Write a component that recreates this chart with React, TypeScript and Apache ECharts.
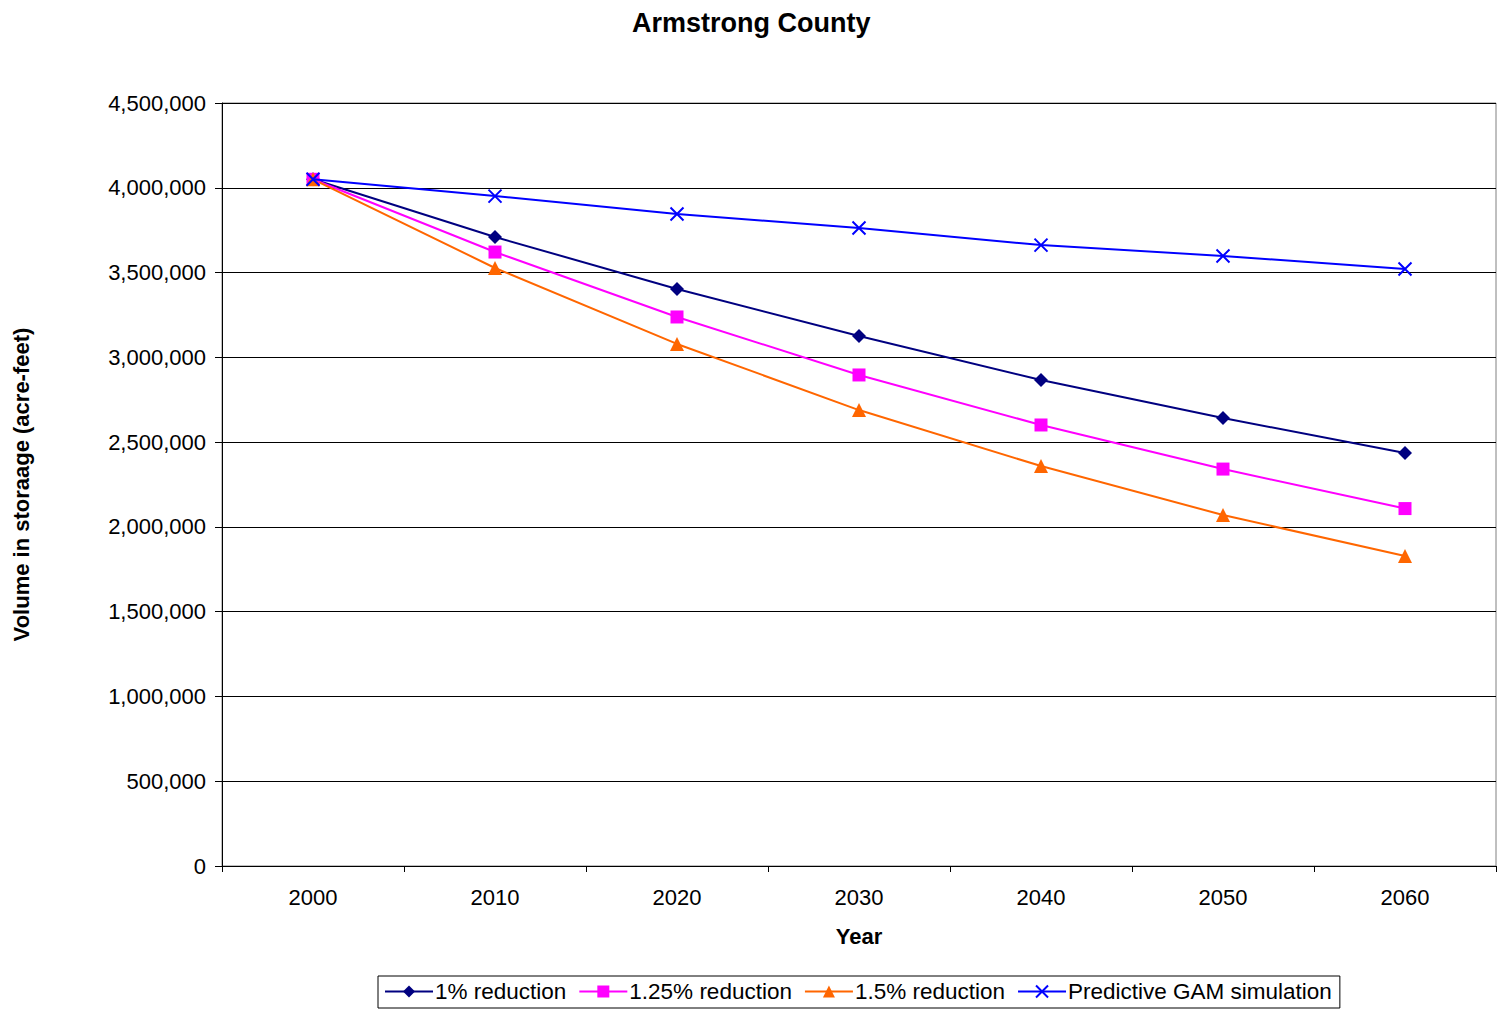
import React, { useEffect, useRef } from "react";
import * as echarts from "echarts";

const years = ["2000", "2010", "2020", "2030", "2040", "2050", "2060"];
const reduction1 = [4050000, 3710000, 3403000, 3126000, 2866000, 2642000, 2436000];
const reduction125 = [4050000, 3621000, 3238000, 2896000, 2601000, 2341000, 2108000];
const reduction15 = [4050000, 3527000, 3079000, 2689000, 2359000, 2070000, 1828000];
const gamSimulation = [4050000, 3951000, 3845000, 3763000, 3662000, 3598000, 3521000];

const FONT = "'Liberation Sans', Arial, Helvetica, sans-serif";

const fmt = (v: number) => v.toLocaleString("en-US");

export default function App() {
  const ref = useRef<HTMLDivElement>(null);

  useEffect(() => {
    if (!ref.current) return;
    const chart = echarts.init(ref.current, undefined, { renderer: "svg" });

    const lineSeries = (name: string, data: number[], color: string, symbol: string, size: number, extra: any = {}) => ({
      name,
      type: "line",
      data,
      symbol,
      symbolSize: size,
      showAllSymbol: true,
      lineStyle: { color, width: 2 },
      itemStyle: { color, borderColor: color, borderWidth: 0 },
      emphasis: { disabled: true },
      z: extra.z ?? 2,
      ...extra,
    });

    chart.setOption({
      animation: false,
      backgroundColor: "#ffffff",
      textStyle: { fontFamily: FONT, color: "#000" },
      title: {
        text: "Armstrong County",
        left: 627,
        top: 4,
        textStyle: { fontFamily: FONT, fontSize: 27, fontWeight: "bold", color: "#000" },
      },
      grid: {
        left: 222,
        right: 1,
        top: 103,
        bottom: 144,
        show: true,
        borderColor: "#808080",
        borderWidth: 1,
        backgroundColor: "transparent",
      },
      legend: {
        top: 976,
        left: 378,
        data: ["1% reduction", "1.25% reduction", "1.5% reduction", "Predictive GAM simulation"],
        itemWidth: 48,
        itemHeight: 15,
        itemGap: 12,
        padding: [4, 8, 5, 6],
        borderColor: "#000",
        borderWidth: 1,
        textStyle: { fontFamily: FONT, fontSize: 22.5, color: "#000", padding: [0, 0, 0, -3] },
      },
      xAxis: {
        type: "category",
        data: years,
        boundaryGap: true,
        name: "Year",
        nameLocation: "middle",
        nameGap: 59,
        nameTextStyle: { fontFamily: FONT, fontSize: 22, fontWeight: "bold", color: "#000" },
        axisLine: { show: true, lineStyle: { color: "#000", width: 1 } },
        axisTick: { show: true, length: 6, inside: false, lineStyle: { color: "#000" } },
        axisLabel: { fontFamily: FONT, fontSize: 22, color: "#000", margin: 20 },
        splitLine: { show: false },
      },
      yAxis: {
        type: "value",
        min: 0,
        max: 4500000,
        interval: 500000,
        name: "Volume in storaage (acre-feet)",
        nameLocation: "middle",
        nameGap: 190,
        nameRotate: 90,
        nameTextStyle: { fontFamily: FONT, fontSize: 22, fontWeight: "bold", color: "#000" },
        axisLine: { show: true, lineStyle: { color: "#000", width: 1 } },
        axisTick: { show: true, length: 7, inside: false, lineStyle: { color: "#000" } },
        axisLabel: { fontFamily: FONT, fontSize: 22, color: "#000", margin: 16, formatter: (v: number) => fmt(v) },
        splitLine: { show: true, lineStyle: { color: "#000", width: 1 } },
      },
      series: [
        lineSeries("1% reduction", reduction1, "#000080", "diamond", 14),
        lineSeries("1.25% reduction", reduction125, "#FF00FF", "rect", 13),
        lineSeries("1.5% reduction", reduction15, "#FF6600", "triangle", 14),
        {
          ...lineSeries("Predictive GAM simulation", gamSimulation, "#0000FF", "path://M0,0L10,10M10,0L0,10", 13, { z: 3 }),
          itemStyle: { color: "#0000FF", borderColor: "#0000FF", borderWidth: 2 },
        },
      ],
    });

    return () => chart.dispose();
  }, []);

  return (
    <div
      ref={ref}
      style={{ position: "fixed", left: 0, top: 0, width: 1497, height: 1010, background: "#fff" }}
    />
  );
}
